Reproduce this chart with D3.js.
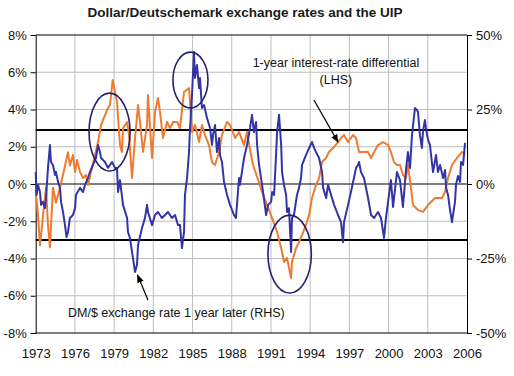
<!DOCTYPE html>
<html><head><meta charset="utf-8">
<script src="https://cdn.jsdelivr.net/npm/d3@7"></script>
<style>
body{margin:0;background:#fff}
svg{display:block}
text{font-family:Arial,"Liberation Sans",sans-serif}
</style>
</head><body>
<svg id="chart" width="514" height="376"></svg>
<script>
// ---------- data ----------
const chartTitle = "Dollar/Deutschemark exchange rates and the UIP";
const yearTicks = [1973,1976,1979,1982,1985,1988,1991,1994,1997,2000,2003,2006];
const lhsTicks = [-8,-6,-4,-2,0,2,4,6,8];
const rhsTicks = [-50,-25,0,25,50];
const bandLines = [2.9, -3.0];

// 1-year interest-rate differential (LHS, %)
const irdYears = [1973.00,1973.18,1973.33,1973.56,1973.79,1973.94,1974.09,1974.32,1974.55,1974.86,
1975.17,1975.47,1975.62,1975.85,1976.01,1976.16,1976.39,1976.62,1976.85,1977.00,
1977.23,1977.54,1977.77,1978.00,1978.30,1978.53,1978.68,1978.89,1979.22,1979.45,
1979.60,1979.68,1979.99,1980.14,1980.37,1980.60,1980.83,1980.98,1981.21,1981.52,
1981.59,1981.90,1982.13,1982.36,1982.51,1982.74,1983.05,1983.28,1983.51,1983.82,
1984.04,1984.35,1984.73,1984.81,1984.96,1985.19,1985.50,1985.72,1985.95,1986.26,
1986.49,1986.72,1987.03,1987.25,1987.64,1987.87,1988.25,1988.56,1988.94,1989.17,
1989.40,1989.63,1989.94,1990.32,1990.70,1991.09,1991.47,1991.78,1992.00,1992.23,
1992.54,1992.61,1992.92,1993.15,1993.38,1993.68,1993.92,1994.14,1994.45,1994.68,
1994.91,1995.22,1995.44,1995.75,1996.13,1996.36,1996.59,1996.90,1997.28,1997.51,
1997.74,1998.04,1998.43,1998.66,1998.89,1999.19,1999.57,1999.96,2000.18,2000.41,
2000.64,2000.87,2001.10,2001.33,2001.48,2001.64,2001.87,2002.25,2002.63,2003.02,
2003.55,2004.09,2004.32,2004.55,2004.85,2005.24,2005.62,2005.85];
const irdValues = [-0.3,-1.7,-3.3,-1.7,-0.2,-2.2,-3.4,-0.2,-1.0,-0.2,
0.75,1.7,1.0,1.56,0.64,1.29,0.64,0.32,0.48,-0.05,
0.64,1.56,2.25,3.17,3.70,4.08,4.24,5.58,4.40,2.09,
1.72,3.0,3.33,2.63,0.32,2.47,4.24,3.33,1.72,3.17,
4.78,1.40,3.87,4.62,3.87,2.47,3.33,3.0,3.33,3.33,
3.0,4.94,5.15,4.40,2.79,3.17,2.25,3.17,2.63,2.09,
1.18,1.02,1.72,2.63,3.33,3.17,2.47,2.79,2.09,2.79,
1.83,1.02,0.38,-0.43,-1.13,-1.83,-2.58,-3.44,-4.19,-3.97,
-5.05,-4.19,-3.44,-3.11,-2.74,-2.20,-1.66,-0.75,-0.05,0.32,
1.18,1.40,1.72,1.93,2.25,2.47,2.63,2.25,2.63,2.47,
1.72,1.72,1.72,1.40,1.72,2.09,2.25,2.09,1.72,1.18,
1.02,1.02,0.48,0.32,1.02,0.21,-1.13,-1.40,-1.50,-1.13,
-0.75,-0.75,-0.43,0.32,1.02,1.40,1.72,1.61];

// DM/$ exchange rate change 1 year later (RHS, %)
const fxYears = [1973.00,1973.06,1973.18,1973.33,1973.41,1973.56,1973.71,1973.79,1973.94,1974.09,
1974.17,1974.32,1974.48,1974.55,1974.71,1974.86,1974.94,1975.09,1975.24,1975.36,
1975.47,1975.62,1975.85,1976.01,1976.08,1976.39,1976.62,1976.77,1977.00,1977.15,
1977.38,1977.61,1977.77,1977.92,1978.00,1978.30,1978.53,1978.84,1979.07,1979.22,
1979.30,1979.45,1979.68,1979.99,1980.06,1980.21,1980.44,1980.60,1980.75,1980.83,
1981.13,1981.36,1981.52,1981.59,1981.90,1982.13,1982.36,1982.66,1982.89,1983.12,
1983.43,1983.66,1983.89,1984.04,1984.19,1984.35,1984.42,1984.58,1984.73,1984.81,
1984.96,1985.11,1985.19,1985.34,1985.50,1985.57,1985.72,1985.88,1986.11,1986.34,
1986.49,1986.57,1986.72,1986.87,1987.03,1987.10,1987.25,1987.41,1987.64,1987.87,
1988.17,1988.32,1988.56,1988.63,1988.94,1989.17,1989.40,1989.55,1989.70,1989.86,
1989.94,1990.09,1990.32,1990.63,1990.78,1991.01,1991.09,1991.24,1991.39,1991.47,
1991.62,1991.78,1991.85,1992.00,1992.16,1992.23,1992.38,1992.54,1992.61,1992.76,
1992.99,1993.15,1993.30,1993.38,1993.68,1993.92,1994.14,1994.30,1994.45,1994.68,
1994.91,1994.99,1995.22,1995.37,1995.60,1995.83,1996.13,1996.36,1996.51,1996.59,
1996.90,1997.12,1997.35,1997.51,1997.66,1997.74,1997.89,1998.12,1998.43,1998.66,
1998.89,1999.19,1999.42,1999.65,1999.80,1999.96,2000.18,2000.34,2000.64,2000.87,
2001.10,2001.33,2001.48,2001.64,2001.79,2002.02,2002.17,2002.25,2002.40,2002.55,
2002.63,2002.78,2002.86,2003.02,2003.17,2003.25,2003.40,2003.63,2003.78,2003.94,
2004.17,2004.32,2004.40,2004.55,2004.70,2004.85,2004.93,2005.08,2005.16,2005.31,
2005.47,2005.54,2005.70,2005.85];
const fxValues = [4.0,-3.7,-0.3,-2.7,-7.0,-6.0,-8.1,-4.7,5.4,13.1,
7.4,6.4,3.0,4.0,0.7,-1.3,-6.0,-9.4,-13.8,-17.8,
-16.1,-11.4,-10.4,-8.1,-3.7,-1.3,-2.7,-0.3,2.0,4.0,
6.4,8.7,13.1,10.7,8.7,7.4,5.4,7.4,5.4,5.4,
-2.7,1.3,-7.0,-11.4,-16.1,-18.1,-24.8,-29.5,-27.2,-20.5,
-14.8,-11.4,-7.0,-9.4,-13.8,-10.4,-9.4,-11.4,-10.4,-9.4,
-11.4,-10.4,-13.8,-13.8,-21.5,-16.1,-3.7,2.0,10.7,18.8,
29.9,44.3,35.6,39.9,32.2,35.6,25.5,26.5,22.1,18.8,
13.1,16.4,19.8,10.7,15.4,9.7,7.4,0.7,-3.7,-7.0,
-10.4,-11.4,2.0,-0.3,8.7,13.1,18.8,23.2,17.4,20.8,
13.1,6.4,-0.3,-10.4,-7.0,-6.0,-2.7,-3.7,9.7,17.4,
23.2,13.1,4.0,-0.3,-3.7,-9.4,-8.1,-22.8,-11.4,-10.4,
-3.7,-1.3,2.0,6.4,9.7,12.1,14.1,12.1,10.7,8.7,
4.0,-1.3,-4.7,-0.3,-3.7,-7.0,-10.4,-12.8,-19.5,-12.8,
-7.0,-2.7,2.0,5.4,6.4,7.4,4.0,2.0,-4.7,-10.4,
-11.4,-9.4,-11.4,-18.1,-11.4,-6.0,1.3,-7.7,4.0,1.3,
-7.7,4.7,10.7,5.4,16.4,25.5,24.8,24.2,16.4,12.1,
17.4,21.5,18.8,14.8,13.1,9.7,4.0,9.7,4.0,6.4,
2.0,4.7,-1.3,-3.7,-8.7,-12.8,-10.4,-6.0,-0.3,2.7,
0.7,7.4,6.4,13.8];

// annotation ellipses in data units (year, LHS %), radii in years / LHS %
const circleYears = [1978.65, 1984.84, 1992.43];
const circleValues = [2.79, 5.58, -3.76];
const circleRadYears = [1.57, 1.34, 1.66];
const circleRadValues = [2.09, 1.50, 2.09];

// ---------- layout ----------
const svg = d3.select("#chart");
const L = 35.7, R = 467, T = 35, B = 333;
const x = d3.scaleLinear().domain([1973, 2006]).range([L, R]);
const yL = d3.scaleLinear().domain([-8, 8]).range([B, T]);
const yR = d3.scaleLinear().domain([-50, 50]).range([B, T]);

const orange = "#F07B2F", blue = "#3434A6", navy = "#22226E", grid = "#BEBEBE";

// title
svg.append("text").attr("x", 245).attr("y", 17).attr("text-anchor", "middle")
  .attr("font-size", 13.5).attr("font-weight", "bold").attr("fill", "#1a1a1a").text(chartTitle);

// vertical grid
svg.append("g").selectAll("line").data(yearTicks.slice(1, -1)).join("line")
  .attr("x1", d => x(d)).attr("x2", d => x(d)).attr("y1", T).attr("y2", B)
  .attr("stroke", grid).attr("stroke-width", 1);
// horizontal grid
svg.append("g").selectAll("line").data(lhsTicks.filter(d => d !== 0 && Math.abs(d) !== 8)).join("line")
  .attr("x1", L).attr("x2", R).attr("y1", d => yL(d)).attr("y2", d => yL(d))
  .attr("stroke", grid).attr("stroke-width", 1);

// zero line
svg.append("line").attr("x1", L).attr("x2", R).attr("y1", yL(0)).attr("y2", yL(0))
  .attr("stroke", "#000").attr("stroke-width", 1);
// band lines
svg.append("g").selectAll("line").data(bandLines).join("line")
  .attr("x1", L).attr("x2", R).attr("y1", d => yL(d)).attr("y2", d => yL(d))
  .attr("stroke", "#000").attr("stroke-width", 2);

// frame
svg.append("line").attr("x1", L).attr("x2", R).attr("y1", T).attr("y2", T).attr("stroke", "#000");
svg.append("line").attr("x1", L).attr("x2", R).attr("y1", B).attr("y2", B).attr("stroke", "#000");

// axes
const axL = d3.axisLeft(yL).tickValues(lhsTicks).tickSize(5).tickFormat(d => d + "%");
const axR = d3.axisRight(yR).tickValues(rhsTicks).tickSize(5).tickFormat(d => d + "%");
const axB = d3.axisBottom(x).tickValues(yearTicks).tickSize(0).tickFormat(d3.format("d"));
function styleAxis(g, fs){
  g.select(".domain").attr("stroke", "#000");
  g.selectAll(".tick line").attr("stroke", "#000");
  g.selectAll("text").attr("font-size", fs).attr("fill", "#111")
   .attr("font-family", "Arial, 'Liberation Sans', sans-serif");
}
svg.append("g").attr("transform", `translate(${L},0)`).call(axL).call(g => styleAxis(g, 13))
  .call(g => g.selectAll("text").attr("x", -9));
svg.append("g").attr("transform", `translate(${R},0)`).call(axR).call(g => styleAxis(g, 13))
  .call(g => g.selectAll("text").attr("x", 9));
svg.append("g").attr("transform", `translate(0,${B})`).call(axB).call(g => styleAxis(g, 13))
  .call(g => { g.select(".domain").remove(); g.selectAll("text").attr("dy", "0").attr("y", 25); });

// series
const irdData = irdYears.map((yr, i) => ({yr, v: irdValues[i]}));
const fxData = fxYears.map((yr, i) => ({yr, v: fxValues[i]}));
svg.append("path").datum(irdData)
  .attr("d", d3.line().x(d => x(d.yr)).y(d => yL(d.v)))
  .attr("fill", "none").attr("stroke", orange).attr("stroke-width", 2).attr("stroke-linejoin", "round");
svg.append("path").datum(fxData)
  .attr("d", d3.line().x(d => x(d.yr)).y(d => yR(d.v)))
  .attr("fill", "none").attr("stroke", blue).attr("stroke-width", 2).attr("stroke-linejoin", "round");

// ellipses
svg.append("g").selectAll("ellipse").data(circleYears).join("ellipse")
  .attr("cx", d => x(d)).attr("cy", (d, i) => yL(circleValues[i]))
  .attr("rx", (d, i) => x(d + circleRadYears[i]) - x(d))
  .attr("ry", (d, i) => yL(0) - yL(circleRadValues[i]))
  .attr("fill", "none").attr("stroke", navy).attr("stroke-width", 1.6);

// arrows
const defs = svg.append("defs");
defs.append("marker").attr("id", "ah").attr("viewBox", "0 0 10 10").attr("refX", 9).attr("refY", 5)
  .attr("markerWidth", 7).attr("markerHeight", 7).attr("orient", "auto")
  .append("path").attr("d", "M0,1 L10,5 L0,9 z").attr("fill", "#000");
svg.append("line").attr("x1", x(1994.29)).attr("y1", yL(4.51)).attr("x2", x(1996.13)).attr("y2", yL(2.25))
  .attr("stroke", "#000").attr("stroke-width", 1.2).attr("marker-end", "url(#ah)");
svg.append("line").attr("x1", x(1981.59)).attr("y1", yL(-6.23)).attr("x2", x(1980.79)).attr("y2", yL(-4.89))
  .attr("stroke", "#000").attr("stroke-width", 1.2).attr("marker-end", "url(#ah)");

// labels
svg.append("text").attr("x", x(1995.97)).attr("y", 67).attr("text-anchor", "middle")
  .attr("font-size", 12.5).attr("fill", "#111").text("1-year interest-rate differential");
svg.append("text").attr("x", x(1995.97)).attr("y", 84).attr("text-anchor", "middle")
  .attr("font-size", 12.5).attr("fill", "#111").text("(LHS)");
svg.append("text").attr("x", 68).attr("y", 317).attr("text-anchor", "start")
  .attr("font-size", 12.5).attr("fill", "#111").text("DM/$ exchange rate 1 year later (RHS)");
</script>
</body></html>
